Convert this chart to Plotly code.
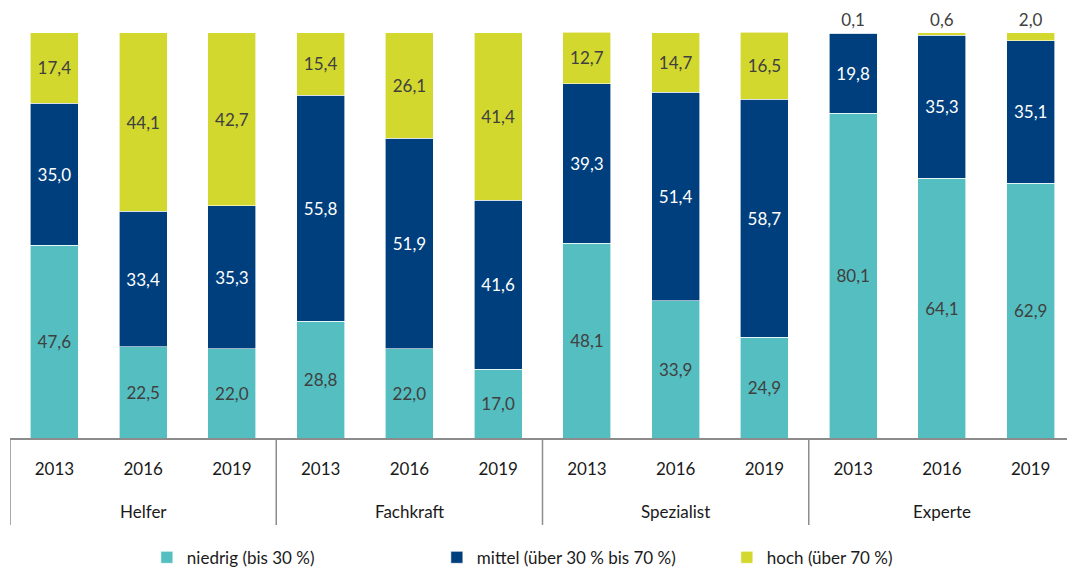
import plotly.graph_objects as go

groups = ["Helfer", "Fachkraft", "Spezialist", "Experte"]
years = ["2013", "2016", "2019"]

niedrig = [47.6, 22.5, 22.0, 28.8, 22.0, 17.0, 48.1, 33.9, 24.9, 80.1, 64.1, 62.9]
mittel = [35.0, 33.4, 35.3, 55.8, 51.9, 41.6, 39.3, 51.4, 58.7, 19.8, 35.3, 35.1]
hoch = [17.4, 44.1, 42.7, 15.4, 26.1, 41.4, 12.7, 14.7, 16.5, 0.1, 0.6, 2.0]

n_years = len(years)
xpos = list(range(len(groups) * n_years))
ticktext = [y for _ in groups for y in years]

FONT = "Lato"
DARK = "#404040"
AXIS = "#8c8c8c"


def fmt(vals):
    return [f"{v:.1f}".replace(".", ",") for v in vals]


hoch_pos = ["inside"] * 9 + ["outside"] * 3

common = dict(x=xpos, insidetextanchor="middle", textangle=0,
              constraintext="none", cliponaxis=False)

fig = go.Figure()
fig.add_trace(go.Bar(
    y=niedrig, text=fmt(niedrig), name="niedrig (bis 30 %)", textposition="inside",
    marker=dict(color="#55BEC0", line=dict(color="white", width=0.6)),
    textfont=dict(color=DARK, size=17, family=FONT), **common,
))
fig.add_trace(go.Bar(
    y=mittel, text=fmt(mittel), name="mittel (über 30 % bis 70 %)", textposition="inside",
    marker=dict(color="#003F7D", line=dict(color="white", width=0.6)),
    textfont=dict(color="white", size=17, family=FONT), **common,
))
fig.add_trace(go.Bar(
    y=hoch, text=fmt(hoch), name="hoch (über 70 %)", textposition=hoch_pos,
    marker=dict(color="#D2D82E", line=dict(color="white", width=0.6)),
    textfont=dict(color=DARK, size=17, family=FONT), **common,
))

# group dividers and labels on the category axis
for gi, g in enumerate(groups):
    left = gi * n_years - 0.5
    fig.add_shape(type="line", xref="x", yref="paper", x0=left, x1=left,
                  y0=0, y1=-0.214, line=dict(color=AXIS, width=1.5))
    fig.add_annotation(x=gi * n_years + (n_years - 1) / 2, xref="x",
                       y=-0.182, yref="paper", yanchor="middle",
                       text=g, showarrow=False,
                       font=dict(size=17, family=FONT, color="#1a1a1a"))

# page body has an 8px margin; figure is sized to fill the rest of the window
fig.update_layout(
    barmode="stack",
    bargap=0.46,
    width=1067, height=563,
    margin=dict(l=2, r=0, t=24, b=133, autoexpand=False),
    plot_bgcolor="white", paper_bgcolor="white",
    font=dict(family=FONT, size=17, color="#1a1a1a"),
    legend=dict(
        orientation="h", x=0.1285, xanchor="left", y=-0.295, yanchor="middle",
        traceorder="normal",
        entrywidth=245, entrywidthmode="pixels",
        font=dict(size=17, family=FONT, color="#1a1a1a"),
    ),
    xaxis=dict(
        range=[-0.5, len(xpos) - 0.5],
        tickmode="array", tickvals=xpos, ticktext=ticktext,
        showline=True, linecolor=AXIS, linewidth=1.5,
        ticks="", ticklabelstandoff=15, showgrid=False, zeroline=False,
        automargin=False,
        tickfont=dict(size=17, family=FONT, color="#1a1a1a"),
    ),
    yaxis=dict(
        range=[0, 100.15], visible=False, showgrid=False, zeroline=False,
        automargin=False,
    ),
)

fig.write_html("out.html")
